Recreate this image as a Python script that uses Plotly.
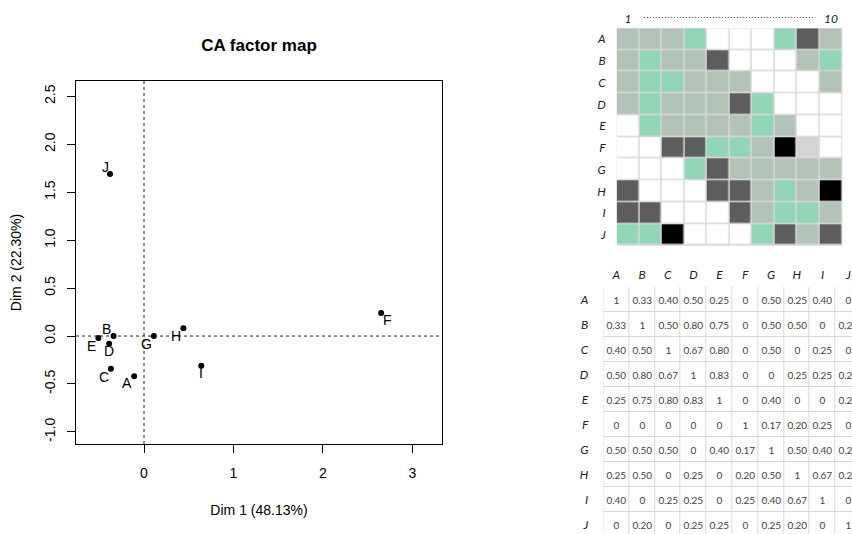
import plotly.graph_objects as go

W, H = 852, 534

# ---------------- data ----------------
points = ["A", "B", "C", "D", "E", "F", "G", "H", "I", "J"]
dim1 = [-0.11, -0.34, -0.37, -0.39, -0.51, 2.65, 0.11, 0.44, 0.64, -0.38]
dim2 = [-0.42, 0.00, -0.34, -0.08, -0.02, 0.24, 0.00, 0.08, -0.31, 1.69]

x_ticks = [0, 1, 2, 3]
y_ticks = [-1.0, -0.5, 0.0, 0.5, 1.0, 1.5, 2.0, 2.5]
y_ticktext = ["-1.0", "-0.5", "0.0", "0.5", "1.0", "1.5", "2.0", "2.5"]

rows = ["A", "B", "C", "D", "E", "F", "G", "H", "I", "J"]
cols = ["A", "B", "C", "D", "E", "F", "G", "H", "I", "J"]

# category codes: w=white g=grey-green m=mint d=dark grey k=black l=light grey
heat_A = "gggmwwwmdg"
heat_B = "gmggdwwwgm"
heat_C = "gmmgggwwwg"
heat_D = "gmgggdmwww"
heat_E = "wmggggmgww"
heat_F = "wwddmmgklw"
heat_G = "wwwmdggggg"
heat_H = "dwwwddgmgk"
heat_I = "ddwwwdgmmg"
heat_J = "mmkwwwmdgd"
heat_codes = [heat_A, heat_B, heat_C, heat_D, heat_E, heat_F, heat_G, heat_H, heat_I, heat_J]
categories = ["w", "g", "m", "d", "k", "l"]

sim_A = [1, 0.33, 0.40, 0.50, 0.25, 0, 0.50, 0.25, 0.40, 0]
sim_B = [0.33, 1, 0.50, 0.80, 0.75, 0, 0.50, 0.50, 0, 0.20]
sim_C = [0.40, 0.50, 1, 0.67, 0.80, 0, 0.50, 0, 0.25, 0]
sim_D = [0.50, 0.80, 0.67, 1, 0.83, 0, 0, 0.25, 0.25, 0.25]
sim_E = [0.25, 0.75, 0.80, 0.83, 1, 0, 0.40, 0, 0, 0.25]
sim_F = [0, 0, 0, 0, 0, 1, 0.17, 0.20, 0.25, 0]
sim_G = [0.50, 0.50, 0.50, 0, 0.40, 0.17, 1, 0.50, 0.40, 0.25]
sim_H = [0.25, 0.50, 0, 0.25, 0, 0.20, 0.50, 1, 0.67, 0.20]
sim_I = [0.40, 0, 0.25, 0.25, 0, 0.25, 0.40, 0.67, 1, 0]
sim_J = [0, 0.20, 0, 0.25, 0.25, 0, 0.25, 0.20, 0, 1]
similarity = [sim_A, sim_B, sim_C, sim_D, sim_E, sim_F, sim_G, sim_H, sim_I, sim_J]

# ---------------- styles ----------------
# label offsets in pixels (dx right, dy up) relative to each point
label_dx = [-7, -7, -7, 0, -7, 6, -7, -7, 0, -5]
label_dy = [-7, 7, -8, -7, -8, -7, -8, -8, -7, 7]
cat_colors = ["#ffffff", "#b4c3b8", "#92d6b8", "#5d5d5d", "#000000", "#d4d4d4"]
RFONT = "Liberation Sans, Arial, sans-serif"
SFONT = "Lato, Open Sans, sans-serif"

fig = go.Figure()

# ---- CA factor map ----
fig.add_trace(go.Scatter(
    x=dim1, y=dim2, mode="markers",
    marker=dict(color="black", size=6),
    xaxis="x", yaxis="y", showlegend=False, hoverinfo="skip", cliponaxis=False,
))
annotations = []
for name, xv, yv, dx, dy in zip(points, dim1, dim2, label_dx, label_dy):
    annotations.append(dict(
        x=xv, y=yv, xref="x", yref="y", text=name, showarrow=False,
        xshift=dx, yshift=dy, xanchor="center", yanchor="middle",
        font=dict(family=RFONT, size=14, color="black")))

# ---- categorical heatmap ----
zc = [[categories.index(c) for c in row] for row in heat_codes]
n = len(cat_colors)
cs = []
for i, c in enumerate(cat_colors):
    cs.append([i / n, c])
    cs.append([(i + 1) / n, c])
fig.add_trace(go.Heatmap(
    z=zc, x=list(range(10)), y=list(range(10)), zmin=-0.5, zmax=n - 0.5,
    colorscale=cs, showscale=False, xgap=1.5, ygap=1.5,
    xaxis="x2", yaxis="y2", hoverinfo="skip",
))

# ---- similarity table ----
def fmt(v):
    if v == 1:
        return "1"
    if v == 0:
        return "0"
    return f"{v:.2f}"

txt = [[fmt(v) for v in row] for row in similarity]
fig.add_trace(go.Heatmap(
    z=[[0] * 10 for _ in range(10)], x=list(range(10)), y=list(range(10)),
    text=txt, texttemplate="%{text}",
    textfont=dict(family=SFONT, size=10, color="#444444"),
    colorscale=[[0, "#ffffff"], [1, "#ffffff"]], showscale=False,
    xgap=1, ygap=1, xaxis="x3", yaxis="y3", hoverinfo="skip",
))

shapes = [
    dict(type="line", xref="x", yref="y domain", x0=0, x1=0, y0=0, y1=1,
         line=dict(color="#222", width=1, dash="3px,3px")),
    dict(type="line", xref="x domain", yref="y", x0=0, x1=1, y0=0, y1=0,
         line=dict(color="#222", width=1, dash="3px,3px")),
    dict(type="rect", xref="x2 domain", yref="y2 domain", x0=0, x1=1, y0=0, y1=1,
         fillcolor="#d9d9d9", line=dict(width=0), layer="below"),
    dict(type="rect", xref="x3 domain", yref="y3 domain", x0=0, x1=1, y0=0, y1=1,
         fillcolor="#d9d9d9", line=dict(width=0), layer="below"),
    dict(type="line", xref="x2", yref="paper", x0=0.7, x1=8.3,
         y0=1 - 17.5 / H, y1=1 - 17.5 / H,
         line=dict(color="#333", width=1, dash="1px,2px")),
]

ital = dict(family=SFONT, size=12, color="#222", style="italic")

fig.update_layout(
    template="none",
    width=W, height=H, autosize=False,
    margin=dict(l=0, r=0, t=0, b=0),
    paper_bgcolor="white", plot_bgcolor="white",
    showlegend=False,
    title=dict(text="<b>CA factor map</b>", x=259 / W, y=1 - 45 / H,
               xanchor="center", yanchor="middle",
               font=dict(family=RFONT, size=17, color="black")),
    shapes=shapes,
    annotations=annotations,
    xaxis=dict(domain=[76 / W, 442 / W], range=[-0.76, 3.33],
               tickvals=x_ticks, ticks="outside", ticklen=8, tickcolor="black",
               showline=True, mirror=True, linecolor="black", linewidth=1,
               showgrid=False, zeroline=False,
               tickfont=dict(family=RFONT, size=14, color="black"),
               ticklabelstandoff=8,
               title=dict(text="Dim 1 (48.13%)", standoff=25,
                          font=dict(family=RFONT, size=14, color="black"))),
    yaxis=dict(domain=[1 - 444 / H, 1 - 81 / H], range=[-1.126, 2.66],
               tickvals=y_ticks, ticktext=y_ticktext, tickangle=-90,
               ticks="outside", ticklen=8, tickcolor="black",
               showline=True, mirror=True, linecolor="black", linewidth=1,
               showgrid=False, zeroline=False,
               tickfont=dict(family=RFONT, size=14, color="black"),
               ticklabelstandoff=6,
               title=dict(text="Dim 2 (22.30%)", standoff=17,
                          font=dict(family=RFONT, size=14, color="black"))),
    xaxis2=dict(domain=[616.7 / W, 842.3 / W], range=[-0.5, 9.5], side="top",
                anchor="y2", tickvals=[0, 9], ticktext=["1", "10"],
                showgrid=False, zeroline=False, showline=False, ticks="",
                tickfont=ital, ticklabelstandoff=2),
    yaxis2=dict(domain=[1 - 245.7 / H, 1 - 28.3 / H], range=[9.5, -0.5],
                anchor="x2", tickvals=list(range(10)), ticktext=rows,
                showgrid=False, zeroline=False, showline=False, ticks="",
                tickfont=ital, ticklabelstandoff=10),
    xaxis3=dict(domain=[603.3 / W, 1.0], range=[-0.5, -0.5 + (W - 603.3) / 25.8],
                side="top", anchor="y3", tickvals=list(range(10)), ticktext=cols,
                showgrid=False, zeroline=False, showline=False, ticks="",
                tickfont=ital, ticklabelstandoff=5),
    yaxis3=dict(domain=[0, 1 - 287 / H], range=[-0.5 + (H - 287) / 25.0, -0.5],
                anchor="x3", tickvals=list(range(10)), ticktext=rows,
                showgrid=False, zeroline=False, showline=False, ticks="",
                tickfont=ital, ticklabelstandoff=14),
)

fig.write_html(
    "out.html",
    config={"displayModeBar": False},
    post_script="document.body.style.margin='0';document.body.style.overflow='hidden';",
)
